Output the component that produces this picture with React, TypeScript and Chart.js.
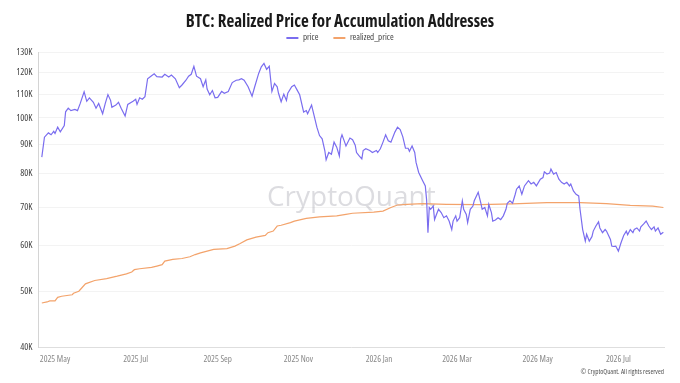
import { useEffect, useRef } from 'react';
import { Chart, registerables } from 'chart.js';

Chart.register(...registerables);

// Day offsets are counted from this date.
const START = '2025-04-21';

// BTC price (thousand USD), sampled by day offset from START.
const priceDays = [
  0, 2, 5, 7, 9, 10, 12, 14, 17, 18,
  20, 22, 25, 27, 29, 32, 34, 36, 39, 41,
  43, 46, 48, 50, 52, 53, 56, 58, 60, 63,
  65, 69, 71, 72, 74, 76, 78, 80, 83, 85,
  87, 91, 93, 96, 98, 101, 104, 106, 109, 111,
  113, 115, 117, 120, 122, 124, 125, 127, 129, 131,
  133, 136, 138, 141, 144, 147, 149, 151, 153, 156,
  159, 161, 164, 166, 168, 170, 172, 174, 176, 178,
  179, 181, 183, 185, 186, 189, 191, 193, 195, 198,
  200, 201, 204, 205, 208, 210, 212, 214, 215, 217,
  219, 221, 223, 225, 226, 227, 229, 230, 233, 235,
  237, 238, 240, 242, 243, 245, 248, 250, 253, 254,
  256, 258, 260, 262, 264, 267, 269, 271, 273, 275,
  277, 278, 280, 282, 283, 285, 288, 290, 291, 292,
  293, 294, 296, 297, 299, 300, 302, 304, 306, 308,
  310, 311, 313, 314, 316, 318, 319, 321, 322, 324,
  326, 327, 330, 332, 333, 335, 337, 338, 340, 341,
  343, 345, 347, 349, 351, 352, 354, 356, 358, 359,
  361, 363, 365, 368, 370, 372, 374, 377, 379, 380,
  382, 384, 385, 387, 389, 391, 393, 395, 397, 399,
  400, 402, 404, 406, 407, 409, 411, 412, 414, 416,
  417, 419, 421, 422, 424, 426, 427, 430, 431, 432,
  434, 436, 438, 440, 442, 443, 445, 447, 448, 450,
  452, 453, 455, 457, 459, 461, 463, 464, 466, 468,
  470,
];
const priceK = [
  85.5, 92.6, 94.2, 93.5, 94.8, 94.0, 96.4, 94.6, 97.0, 102.5,
  104.0, 103.0, 103.5, 103.0, 105.9, 111.0, 106.9, 108.4, 106.5, 104.0,
  106.0, 101.7, 106.0, 109.8, 107.3, 104.4, 105.3, 106.5, 104.0, 100.8,
  105.6, 106.9, 107.8, 105.6, 108.4, 107.8, 108.9, 117.0, 118.4, 119.3,
  118.0, 117.8, 119.1, 117.8, 118.7, 117.0, 112.9, 114.1, 116.3, 118.2,
  119.1, 123.0, 118.2, 117.0, 113.3, 116.5, 112.3, 109.7, 111.6, 108.4,
  108.6, 111.2, 110.4, 111.2, 115.2, 116.3, 116.5, 117.0, 116.3, 113.3,
  109.1, 113.3, 119.5, 122.7, 124.4, 121.5, 123.0, 111.2, 114.8, 113.3,
  110.4, 106.7, 110.0, 107.3, 110.4, 113.3, 114.1, 111.9, 109.7, 102.4,
  103.0, 101.7, 105.3, 103.0, 96.4, 93.2, 92.0, 87.8, 84.6, 87.1,
  86.5, 90.8, 89.0, 85.9, 92.0, 93.5, 90.8, 89.4, 92.3, 91.7,
  89.7, 87.1, 85.9, 84.9, 87.8, 88.4, 87.8, 87.1, 87.8, 87.1,
  88.4, 90.8, 93.5, 91.3, 90.8, 94.5, 96.4, 95.5, 92.7, 88.6,
  88.6, 87.5, 89.4, 87.1, 83.7, 80.4, 77.8, 76.2, 72.0, 63.2,
  69.9, 69.4, 70.3, 66.6, 68.5, 69.4, 68.5, 67.1, 67.6, 66.2,
  64.0, 66.2, 67.6, 66.2, 67.1, 71.8, 69.4, 68.0, 65.8, 69.4,
  70.3, 71.8, 74.3, 71.1, 69.4, 69.9, 67.6, 70.8, 68.5, 66.2,
  66.5, 67.1, 66.6, 67.6, 69.4, 71.1, 71.8, 71.1, 73.7, 75.2,
  76.2, 73.7, 76.2, 77.8, 76.8, 77.3, 76.2, 78.3, 78.8, 80.6,
  79.9, 80.2, 81.5, 79.9, 80.4, 78.3, 77.3, 76.8, 77.3, 76.2,
  76.8, 74.7, 73.7, 73.2, 69.4, 64.0, 61.1, 62.8, 61.1, 62.2,
  63.6, 64.9, 66.0, 64.4, 63.2, 64.0, 63.6, 61.5, 59.9, 59.8,
  59.9, 58.7, 60.7, 62.5, 63.6, 62.7, 64.0, 63.2, 64.0, 64.4,
  63.6, 64.7, 65.4, 66.2, 64.9, 64.0, 64.7, 63.6, 64.4, 62.8,
  63.3,
];

// Realized price of accumulation addresses (thousand USD).
const realizedDays = [
  0, 4, 6, 10, 12, 15, 23, 24, 28, 30,
  33, 35, 40, 49, 57, 64, 68, 70, 74, 83,
  87, 91, 93, 99, 106, 112, 116, 120, 130, 140,
  146, 150, 155, 162, 169, 171, 175, 178, 181, 188,
  191, 200, 210, 223, 230, 235, 251, 258, 264, 269,
  276, 288, 306, 331, 356, 382, 407, 427, 445, 462,
  470,
];
const realizedK = [
  47.7, 47.9, 48.1, 48.1, 48.8, 49.0, 49.3, 49.6, 50.0, 50.6,
  51.5, 51.7, 52.2, 52.6, 53.1, 53.6, 54.0, 54.5, 54.7, 55.0,
  55.3, 55.6, 56.4, 56.8, 57.0, 57.4, 57.9, 58.3, 59.1, 59.3,
  59.9, 60.5, 61.4, 62.1, 62.5, 63.2, 63.6, 64.9, 65.1, 65.8,
  66.2, 66.9, 67.3, 67.6, 68.0, 68.3, 68.6, 68.9, 69.9, 70.6,
  70.8, 71.0, 70.8, 70.7, 70.9, 71.3, 71.3, 71.0, 70.5, 70.3,
  69.9,
];

const yTicksK = [40, 50, 60, 70, 80, 90, 100, 110, 120, 130];
const xTickDates = ['2025-05-01', '2025-07-01', '2025-09-01', '2025-11-01', '2026-01-01', '2026-03-01', '2026-05-01', '2026-07-01'];
const xTickLabels = ['2025 May', '2025 Jul', '2025 Sep', '2025 Nov', '2026 Jan', '2026 Mar', '2026 May', '2026 Jul'];

const PRICE_COLOR = '#7a6def';
const REALIZED_COLOR = '#f3a36b';
const FAMILY = "'Open Sans', 'Roboto', sans-serif";

const dayOf = (iso: string) => (Date.parse(iso + 'T00:00:00Z') - Date.parse(START + 'T00:00:00Z')) / 86400000;

const zip = (xs: number[], ys: number[]) => xs.map((x, i) => ({ x, y: ys[i] }));

const watermark = {
  id: 'watermark',
  beforeDatasetsDraw(chart: any) {
    const { ctx, chartArea } = chart;
    ctx.save();
    ctx.font = "500 28px 'Open Sans', sans-serif";
    ctx.fillStyle = 'rgba(172,172,180,0.42)';
    ctx.textAlign = 'center';
    ctx.textBaseline = 'alphabetic';
    ctx.fillText('CryptoQuant', (chartArea.left + chartArea.right) / 2, 206);
    ctx.restore();
  },
  afterDraw(chart: any) {
    const { ctx, chartArea } = chart;
    ctx.save();
    ctx.font = `condensed 7px ${FAMILY}`;
    ctx.fillStyle = '#555';
    ctx.textAlign = 'right';
    ctx.textBaseline = 'middle';
    ctx.fillText('© CryptoQuant. All rights reserved', chartArea.right, 372);
    ctx.restore();
  },
};

export default function App() {
  const ref = useRef<HTMLCanvasElement>(null);

  useEffect(() => {
    document.body.style.margin = '0';
    const canvas = ref.current;
    if (!canvas) return;
    const chart = new Chart(canvas, {
      type: 'line',
      data: {
        datasets: [
          {
            label: 'price',
            data: zip(priceDays, priceK),
            borderColor: PRICE_COLOR,
            backgroundColor: PRICE_COLOR,
            borderWidth: 1.2,
            pointRadius: 0,
            tension: 0,
          },
          {
            label: 'realized_price',
            data: zip(realizedDays, realizedK),
            borderColor: REALIZED_COLOR,
            backgroundColor: REALIZED_COLOR,
            borderWidth: 1.2,
            pointRadius: 0,
            tension: 0,
          },
        ],
      },
      plugins: [watermark],
      options: {
        responsive: false,
        animation: false,
        layout: { padding: { left: 8, right: 8, top: 0, bottom: 16 } },
        plugins: {
          title: {
            display: true,
            text: 'BTC: Realized Price for Accumulation Addresses',
            color: '#1a1a1a',
            font: { size: 17, weight: 'bold condensed', family: FAMILY },
            padding: { top: 12, bottom: -14 },
          },
          legend: {
            labels: {
              boxWidth: 12,
              boxHeight: 2,
              padding: 15,
              color: '#444',
              font: { size: 9, weight: 'condensed', family: FAMILY },
              generateLabels: (c: any) =>
                c.data.datasets.map((ds: any, i: number) => ({
                  text: ds.label,
                  fillStyle: ds.borderColor,
                  strokeStyle: ds.borderColor,
                  lineWidth: 0,
                  hidden: false,
                  datasetIndex: i,
                  fontColor: '#444',
                })),
            },
          },
          tooltip: { enabled: false },
        },
        scales: {
          x: {
            type: 'linear',
            min: -2.5,
            max: 470.5,
            grid: { display: false, drawTicks: false },
            border: { display: true, color: '#dedede' },
            afterBuildTicks: (s: any) => {
              s.ticks = xTickDates.map((d) => ({ value: dayOf(d) }));
            },
            afterFit: (s: any) => {
              s.height = 20;
            },
            ticks: {
              autoSkip: false,
              maxRotation: 0,
              padding: 7,
              color: '#888',
              font: { size: 9, weight: 'condensed', family: FAMILY },
              callback: (_v: any, i: number) => xTickLabels[i],
            },
          },
          y: {
            type: 'logarithmic',
            min: 40,
            max: 130,
            grid: { color: '#f3f3f3', drawTicks: false },
            border: { display: true, color: '#d4d4d4' },
            afterBuildTicks: (s: any) => {
              s.ticks = yTicksK.map((v) => ({ value: v }));
            },
            afterFit: (s: any) => {
              s.width = 30.5;
            },
            ticks: {
              padding: 6,
              color: '#444',
              font: { size: 9.5, weight: 'condensed', family: FAMILY },
              callback: (v: any) => `${v}K`,
            },
          },
          // empty right-hand gutter so the plot ends short of the canvas edge
          gutter: {
            type: 'linear',
            position: 'right',
            display: true,
            grid: { display: false, drawTicks: false },
            border: { display: false },
            ticks: { display: false },
            afterFit: (s: any) => {
              s.width = 8;
            },
          },
        },
      },
    });
    return () => chart.destroy();
  }, []);

  return (
    <div style={{ width: 680, height: 383, background: '#fff' }}>
      <canvas ref={ref} width={680} height={383} style={{ display: 'block' }} />
    </div>
  );
}
